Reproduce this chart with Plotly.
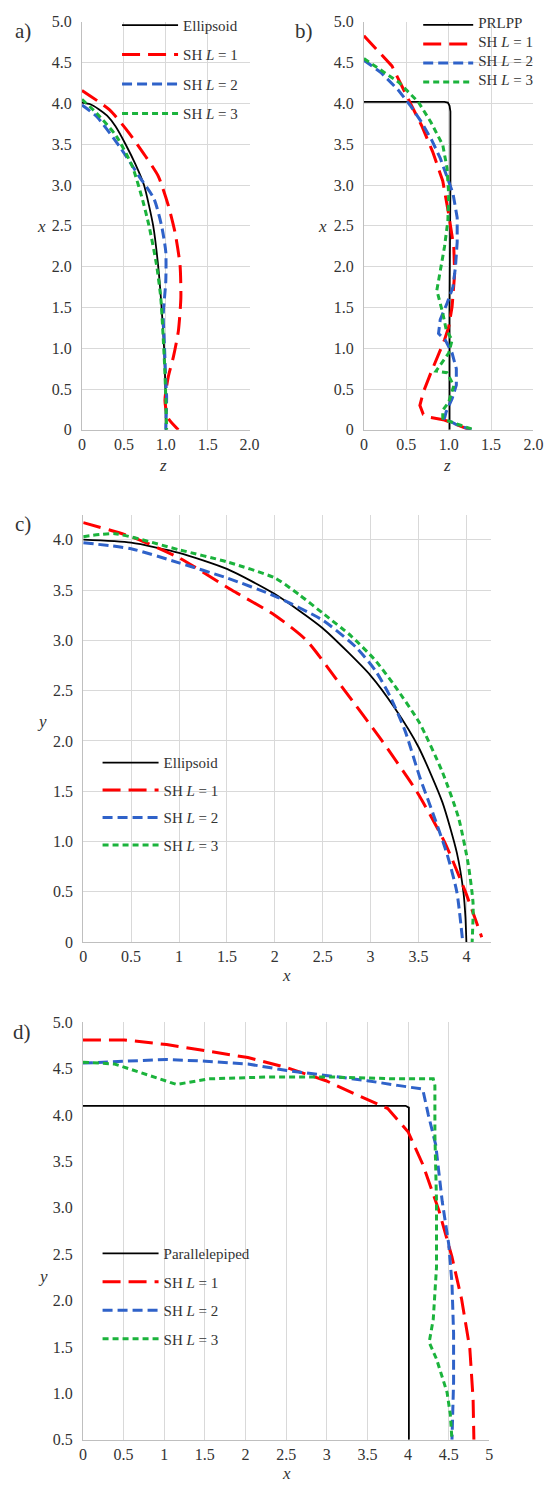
import plotly.graph_objects as go

# ---------------- data ----------------
# a) ellipsoid cross-section, coordinates (z, x)
A_ELL_Z = [0, 0.1, 0.2, 0.3, 0.4, 0.52, 0.64, 0.74, 0.85, 0.91, 0.95, 0.98, 0.995, 1.0]
A_ELL_X = [4.01, 3.99, 3.93, 3.85, 3.72, 3.5, 3.25, 3.0, 2.5, 2.0, 1.5, 1.0, 0.5, 0]
A_L1_Z = [0, 0.33, 0.56, 0.76, 0.91, 1.03, 1.11, 1.17, 1.18, 1.15, 1.09, 1.03, 0.99, 1.03, 1.15]
A_L1_X = [4.16, 3.92, 3.64, 3.35, 3.11, 2.75, 2.42, 2.02, 1.62, 1.21, 0.89, 0.65, 0.36, 0.14, 0]
A_L2_Z = [0, 0.175, 0.45, 0.68, 0.86, 0.95, 1.0, 1.0, 0.97, 0.985, 1.0, 1.01, 1.0]
A_L2_X = [3.98, 3.84, 3.47, 3.11, 2.83, 2.5, 2.18, 1.82, 1.41, 1.01, 0.6, 0.4, 0]
A_L3_Z = [0, 0.175, 0.41, 0.6, 0.72, 0.8, 0.89, 0.94, 0.965, 0.985, 1.0, 1.01]
A_L3_X = [4.05, 3.88, 3.6, 3.23, 2.83, 2.5, 2.02, 1.62, 1.21, 0.81, 0.4, 0]

# b) parallelepiped (PRLPP) cross-section, coordinates (z, x)
B_PRL_Z = [0, 0.95, 0.99, 1.01, 1.02, 1.02, 1.01, 1.01]
B_PRL_X = [4.02, 4.02, 4.01, 3.97, 3.9, 3.0, 1.5, 0]
B_L1_Z = [0, 0.33, 0.52, 0.68, 0.81, 0.93, 1.0, 1.06, 1.07, 1.04, 1.0, 0.95, 0.79, 0.70, 0.66,
          0.70, 0.79, 0.95, 1.05, 1.25]
B_L1_X = [4.83, 4.46, 4.06, 3.73, 3.41, 3.05, 2.64, 2.24, 1.91, 1.51, 1.26, 1.1, 0.70, 0.46, 0.30,
          0.19, 0.15, 0.12, 0.08, 0.0]
B_L2_Z = [0, 0.2, 0.4, 0.55, 0.68, 0.8, 0.9, 0.97, 1.05, 1.1, 1.1, 1.08, 1.05, 0.98, 0.9, 0.88,
          0.96, 1.04, 1.09, 1.09, 1.04, 0.97, 0.95, 1.08, 1.27]
B_L2_X = [4.53, 4.38, 4.17, 3.97, 3.77, 3.55, 3.33, 3.12, 2.9, 2.6, 2.3, 2.0, 1.75, 1.55, 1.35, 1.18,
          1.1, 0.94, 0.75, 0.55, 0.38, 0.22, 0.14, 0.07, 0.0]
B_L3_Z = [0, 0.41, 0.64, 0.79, 0.93, 0.98, 1.0, 0.99, 0.95, 0.89, 0.86, 0.91, 0.93, 0.97, 1.04,
          1.0, 0.89, 0.85, 0.98, 1.06, 1.0, 0.93, 0.93, 1.02, 1.27]
B_L3_X = [4.55, 4.26, 4.02, 3.77, 3.49, 3.21, 2.88, 2.56, 2.24, 1.91, 1.71, 1.51, 1.43, 1.23, 1.1,
          0.94, 0.78, 0.72, 0.7, 0.54, 0.34, 0.24, 0.14, 0.1, 0.01]

# c) ellipsoid, coordinates (x, y)
C_ELL_X = [0, 0.5, 1.0, 1.5, 2.0, 2.5, 3.0, 3.25, 3.5, 3.75, 3.9, 3.97, 3.99, 4.0]
C_ELL_Y = [4.0, 3.97, 3.87, 3.71, 3.46, 3.12, 2.65, 2.33, 1.94, 1.39, 0.89, 0.49, 0.25, 0]
C_L1_X = [0, 0.5, 1.0, 1.55, 2.0, 2.33, 2.73, 3.12, 3.48, 3.77, 3.99, 4.16]
C_L1_Y = [4.17, 4.03, 3.82, 3.5, 3.25, 3.0, 2.5, 2.0, 1.5, 1.0, 0.5, 0.05]
C_L2_X = [0, 0.5, 1.0, 1.5, 2.0, 2.5, 2.85, 3.05, 3.2, 3.36, 3.51, 3.67, 3.8, 3.9, 3.96]
C_L2_Y = [3.97, 3.91, 3.77, 3.62, 3.44, 3.2, 2.93, 2.7, 2.45, 2.1, 1.65, 1.23, 0.87, 0.5, 0.02]
C_L3_X = [0, 0.33, 1.0, 1.5, 2.0, 2.26, 2.5, 2.8, 3.05, 3.25, 3.51, 3.75, 3.92, 4.02, 4.07, 4.06]
C_L3_Y = [4.03, 4.06, 3.9, 3.78, 3.62, 3.45, 3.27, 3.04, 2.8, 2.55, 2.18, 1.69, 1.23, 0.77, 0.38, 0]

# d) parallelepiped, coordinates (x, y)
D_PAR_X = [0, 3.97, 4.01, 4.01]
D_PAR_Y = [4.10, 4.10, 4.08, 0.5]
D_L1_X = [0, 0.51, 1.03, 1.51, 2.03, 2.51, 2.99, 3.39, 3.75, 4.0, 4.07, 4.18, 4.38, 4.54, 4.66,
          4.76, 4.80, 4.81]
D_L1_Y = [4.81, 4.81, 4.76, 4.69, 4.62, 4.51, 4.37, 4.21, 4.07, 3.82, 3.68, 3.47, 2.97, 2.47, 2.01,
          1.48, 0.94, 0.5]
D_L2_X = [0, 0.51, 1.03, 1.51, 2.03, 2.51, 3.07, 3.5, 3.87, 4.18, 4.25, 4.34, 4.42, 4.5, 4.54,
          4.56, 4.56, 4.54]
D_L2_Y = [4.56, 4.58, 4.60, 4.58, 4.55, 4.48, 4.42, 4.37, 4.32, 4.28, 4.0, 3.68, 3.07, 2.61, 2.19,
          1.65, 1.12, 0.5]
D_L3_X = [0, 0.39, 1.15, 1.55, 2.27, 3.07, 3.87, 4.31, 4.33, 4.33, 4.35, 4.35, 4.31, 4.26, 4.35,
          4.48, 4.52, 4.54]
D_L3_Y = [4.57, 4.55, 4.33, 4.39, 4.41, 4.41, 4.39, 4.39, 4.32, 3.79, 3.07, 2.36, 1.80, 1.55, 1.37,
          1.01, 0.77, 0.5]

# tick labels
AB_Y_TICKS = [0, 0.5, 1.0, 1.5, 2.0, 2.5, 3.0, 3.5, 4.0, 4.5, 5.0]
AB_Y_TEXT = ["0", "0.5", "1.0", "1.5", "2.0", "2.5", "3.0", "3.5", "4.0", "4.5", "5.0"]
AB_X_TICKS = [0, 0.5, 1.0, 1.5, 2.0]
AB_X_TEXT = ["0", "0.5", "1.0", "1.5", "2.0"]
C_Y_TICKS = [0, 0.5, 1.0, 1.5, 2.0, 2.5, 3.0, 3.5, 4.0]
C_Y_TEXT = ["0", "0.5", "1.0", "1.5", "2.0", "2.5", "3.0", "3.5", "4.0"]
C_X_TICKS = [0, 0.5, 1, 1.5, 2, 2.5, 3, 3.5, 4]
C_X_TEXT = ["0", "0.5", "1", "1.5", "2", "2.5", "3", "3.5", "4"]
D_Y_TICKS = [0.5, 1.0, 1.5, 2.0, 2.5, 3.0, 3.5, 4.0, 4.5, 5.0]
D_Y_TEXT = ["0.5", "1.0", "1.5", "2.0", "2.5", "3.0", "3.5", "4.0", "4.5", "5.0"]
D_X_TICKS = [0, 0.5, 1, 1.5, 2, 2.5, 3, 3.5, 4, 4.5, 5]
D_X_TEXT = ["0", "0.5", "1", "1.5", "2", "2.5", "3", "3.5", "4", "4.5", "5"]

# ---------------- styling ----------------
W, H = 551, 1488
SERIF = "Liberation Serif, DejaVu Serif, serif"
TXT = "#333333"
GRID = "#d9d9d9"
AXLINE = "#bfbfbf"

STYLE = {
    "ref": dict(color="#000000", width=1.8, dash="solid"),
    "L1": dict(color="#ff0000", width=3, dash="18px,8px"),
    "L2": dict(color="#2f62c9", width=3, dash="10px,5px"),
    "L3": dict(color="#1bb33c", width=3, dash="6px,4px"),
}


def names(size):
    # legend entries, optionally drawn larger than the legend's nominal font
    if size is None:
        return {"L1": "SH <i>L</i> = 1", "L2": "SH <i>L</i> = 2", "L3": "SH <i>L</i> = 3"}
    s = f'<span style="font-size:{size}px">'
    return {"L1": s + "SH <i>L</i> = 1</span>", "L2": s + "SH <i>L</i> = 2</span>",
            "L3": s + "SH <i>L</i> = 3</span>"}


def px_x(p):
    return p / W


def px_y(p):
    return 1 - p / H


fig = go.Figure()


def add_panel(n, series, legend, smooth):
    for key, name, xs, ys in series:
        fig.add_trace(go.Scatter(
            x=xs, y=ys, mode="lines", name=name,
            line=dict(**STYLE[key], shape="spline" if smooth else "linear", smoothing=0.6),
            xaxis=f"x{n}" if n > 1 else "x", yaxis=f"y{n}" if n > 1 else "y",
            legend=legend, legendgroup=f"{legend}-{key}",
        ))


N = names(None)
NB = names(15)
add_panel(1, [("ref", "Ellipsoid", A_ELL_Z, A_ELL_X),
              ("L1", N["L1"], A_L1_Z, A_L1_X),
              ("L2", N["L2"], A_L2_Z, A_L2_X),
              ("L3", N["L3"], A_L3_Z, A_L3_X)], "legend", True)
add_panel(2, [("ref", '<span style="font-size:15px">PRLPP</span>', B_PRL_Z, B_PRL_X),
              ("L1", NB["L1"], B_L1_Z, B_L1_X),
              ("L2", NB["L2"], B_L2_Z, B_L2_X),
              ("L3", NB["L3"], B_L3_Z, B_L3_X)], "legend2", False)
add_panel(3, [("ref", "Ellipsoid", C_ELL_X, C_ELL_Y),
              ("L1", N["L1"], C_L1_X, C_L1_Y),
              ("L2", N["L2"], C_L2_X, C_L2_Y),
              ("L3", N["L3"], C_L3_X, C_L3_Y)], "legend3", True)
add_panel(4, [("ref", "Parallelepiped", D_PAR_X, D_PAR_Y),
              ("L1", N["L1"], D_L1_X, D_L1_Y),
              ("L2", N["L2"], D_L2_X, D_L2_Y),
              ("L3", N["L3"], D_L3_X, D_L3_Y)], "legend4", False)

tickfont = dict(family=SERIF, size=16, color=TXT)


def xaxis(dom, rng, tv, tt, anchor):
    return dict(domain=dom, range=rng, tickvals=tv, ticktext=tt, anchor=anchor,
                showgrid=True, gridcolor=GRID, gridwidth=1, zeroline=False,
                showline=True, linecolor=AXLINE, linewidth=1, ticks="",
                ticklabelstandoff=0, tickfont=tickfont, fixedrange=True)


def yaxis(dom, rng, tv, tt, anchor, grid=True):
    return dict(domain=dom, range=rng, tickvals=tv, ticktext=tt, anchor=anchor,
                showgrid=grid, gridcolor=GRID, gridwidth=1, zeroline=False,
                showline=True, linecolor=AXLINE, linewidth=1, ticks="",
                ticklabelstandoff=6, tickfont=tickfont, fixedrange=True)


AB_YDOM = [px_y(426.7), px_y(14)]
fig.update_layout(
    xaxis=xaxis([px_x(80), px_x(252)], [0, 2], AB_X_TICKS, AB_X_TEXT, "y"),
    yaxis=yaxis(AB_YDOM, [0, 5], AB_Y_TICKS, AB_Y_TEXT, "x"),
    xaxis2=xaxis([px_x(369.3), px_x(543.3)], [0, 2], AB_X_TICKS, AB_X_TEXT, "y2"),
    yaxis2=yaxis(AB_YDOM, [0, 5], AB_Y_TICKS, AB_Y_TEXT, "x2"),
    xaxis3=xaxis([px_x(81.3), px_x(500)], [0, 4.26], C_X_TICKS, C_X_TEXT, "y3"),
    yaxis3=yaxis([px_y(945), px_y(512.4)], [0, 4.25], C_Y_TICKS, C_Y_TEXT, "x3"),
    xaxis4=xaxis([px_x(81), px_x(498)], [0, 5], D_X_TICKS, D_X_TEXT, "y4"),
    yaxis4=yaxis([px_y(1448.3), px_y(1026)], [0.5, 5.0], D_Y_TICKS, D_Y_TEXT, "x4", grid=False),
    # horizontal grid of panel d runs on its own spacing, independent of the labels
    yaxis5=dict(overlaying="y4", anchor="x4", range=[0.5, 5.0], tick0=0.5, dtick=0.45,
                showgrid=True, gridcolor=GRID, gridwidth=1, zeroline=False,
                showticklabels=False, ticks="", showline=False, fixedrange=True),
)

legfont = dict(family=SERIF, size=15, color=TXT)
common_leg = dict(bgcolor="rgba(0,0,0,0)", borderwidth=0,
                  xanchor="left", yanchor="middle", traceorder="grouped")
fig.update_layout(
    legend=dict(**common_leg, font=legfont, itemwidth=56, x=px_x(116), y=px_y(62),
                tracegroupgap=7),
    legend2=dict(**common_leg, font=dict(family=SERIF, size=8, color=TXT), itemwidth=50,
                 x=px_x(425), y=px_y(46), tracegroupgap=0),
    legend3=dict(**common_leg, font=legfont, itemwidth=56, x=px_x(96), y=px_y(805),
                 tracegroupgap=5),
    legend4=dict(**common_leg, font=legfont, itemwidth=56, x=px_x(96), y=px_y(1303),
                 tracegroupgap=6),
)

annots = []
for label, x, y in [("a)", 19, 23), ("b)", 308, 23), ("c)", 19, 522), ("d)", 18, 1036)]:
    annots.append(dict(text=label, x=px_x(x), y=px_y(y), xref="paper", yref="paper",
                       xanchor="center", yanchor="middle", showarrow=False,
                       font=dict(family=SERIF, size=21, color=TXT)))
for label, x, y in [("x", 38, 221), ("z", 163, 463), ("x", 327, 221), ("z", 455, 463),
                    ("y", 39, 722), ("x", 290, 979), ("y", 40, 1283), ("x", 290, 1482)]:
    annots.append(dict(text=f"<i>{label}</i>", x=px_x(x), y=px_y(y), xref="paper", yref="paper",
                       xanchor="center", yanchor="middle", showarrow=False,
                       font=dict(family=SERIF, size=17, color=TXT)))

fig.update_layout(
    width=W, height=H, margin=dict(l=0, r=0, t=0, b=0),
    paper_bgcolor="white", plot_bgcolor="white",
    font=dict(family=SERIF, size=15, color=TXT),
    showlegend=True, annotations=annots,
)

fig.write_html("out.html")
